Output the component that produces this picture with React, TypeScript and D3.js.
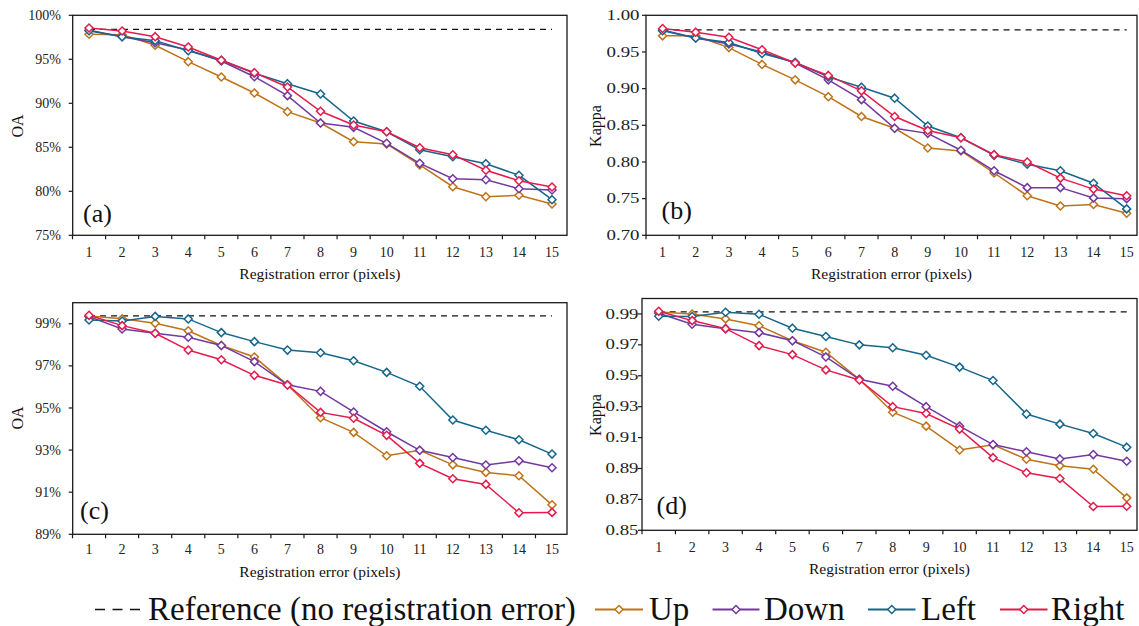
import React from 'react';
import * as d3 from 'd3';

// ---------- data ----------
const errors = [1, 2, 3, 4, 5, 6, 7, 8, 9, 10, 11, 12, 13, 14, 15];
const seriesNames = ['Up', 'Down', 'Left', 'Right'];
const seriesColors = ['#BE7318', '#7238A0', '#16668C', '#E41B4C'];

// (a) OA
const oaA_up = [97.84, 97.8, 96.59, 94.73, 92.99, 91.17, 89.05, 87.76, 85.64, 85.38, 82.99, 80.52, 79.39, 79.55, 78.56];
const oaA_down = [98.3, 97.57, 96.89, 96.06, 94.8, 93.02, 90.87, 87.76, 87.27, 85.45, 83.18, 81.43, 81.32, 80.3, 80.15];
const oaA_left = [98.25, 97.57, 97.12, 95.98, 94.89, 93.41, 92.23, 91.06, 87.99, 86.77, 84.73, 83.93, 83.14, 81.82, 79.05];
const oaA_right = [98.56, 98.22, 97.57, 96.4, 94.89, 93.48, 91.85, 89.09, 87.53, 86.77, 84.95, 84.16, 82.39, 81.2, 80.49];
const oaA_ref = 98.4;

// (b) Kappa
const kaB_up = [0.972, 0.972, 0.956, 0.933, 0.912, 0.889, 0.862, 0.846, 0.819, 0.815, 0.785, 0.754, 0.740, 0.742, 0.730];
const kaB_down = [0.980, 0.969, 0.961, 0.950, 0.935, 0.912, 0.885, 0.846, 0.839, 0.816, 0.788, 0.765, 0.765, 0.751, 0.750];
const kaB_left = [0.979, 0.969, 0.963, 0.948, 0.936, 0.916, 0.902, 0.887, 0.849, 0.833, 0.809, 0.797, 0.788, 0.771, 0.736];
const kaB_right = [0.982, 0.977, 0.970, 0.953, 0.935, 0.918, 0.897, 0.862, 0.843, 0.833, 0.810, 0.800, 0.778, 0.763, 0.754];
const kaB_ref = 0.980;

// (c) OA
const oaC_up = [99.37, 99.24, 99.02, 98.67, 97.97, 97.42, 96.1, 94.54, 93.84, 92.73, 92.99, 92.3, 91.94, 91.78, 90.4];
const oaC_down = [99.34, 98.75, 98.55, 98.36, 97.97, 97.2, 96.1, 95.79, 94.81, 93.87, 92.99, 92.65, 92.29, 92.49, 92.16];
const oaC_left = [99.18, 99.13, 99.35, 99.23, 98.58, 98.15, 97.75, 97.62, 97.24, 96.69, 96.03, 94.43, 93.94, 93.49, 92.81];
const oaC_right = [99.4, 98.91, 98.55, 97.75, 97.29, 96.55, 96.09, 94.79, 94.51, 93.7, 92.37, 91.64, 91.37, 90.02, 90.04];
const oaC_ref = 99.37;

// (d) Kappa
const kaD_up = [0.9913, 0.990, 0.9868, 0.9824, 0.9727, 0.9652, 0.9477, 0.9264, 0.9174, 0.902, 0.9053, 0.896, 0.8917, 0.8895, 0.871];
const kaD_down = [0.9904, 0.9833, 0.9805, 0.9779, 0.9727, 0.9622, 0.9477, 0.9432, 0.930, 0.9174, 0.9055, 0.9008, 0.8962, 0.899, 0.8947];
const kaD_left = [0.9885, 0.9883, 0.9911, 0.9898, 0.9808, 0.9754, 0.970, 0.9681, 0.9633, 0.9556, 0.9469, 0.9252, 0.9187, 0.9126, 0.9038];
const kaD_right = [0.9917, 0.9857, 0.9805, 0.9695, 0.9637, 0.9538, 0.9473, 0.930, 0.9256, 0.9155, 0.897, 0.8872, 0.8835, 0.8654, 0.8656];
const kaD_ref = 0.9913;

// tick labels
const ticksA = [75, 80, 85, 90, 95, 100];
const ticksB = [0.70, 0.75, 0.80, 0.85, 0.90, 0.95, 1.00];
const ticksC = [89, 91, 93, 95, 97, 99];
const ticksD = [0.85, 0.87, 0.89, 0.91, 0.93, 0.95, 0.97, 0.99];

const xTitle = 'Registration error (pixels)';
const legendRefLabel = 'Reference (no registration error)';

const FONT = "'Liberation Serif', 'DejaVu Serif', 'Times New Roman', serif";

type Panel = {
  label: string;
  yTitle: string;
  series: number[][];
  ref: number;
  domain: [number, number];
  ticks: number[];
  fmt: (d: number) => string;
  layout: {
    x0: number; step: number; left: number; right: number; top: number; bottom: number;
    yLabEnd: number; stretch: number | null;
    lab: [number, number]; yT: [number, number]; xTickY: number; xTitleY: number;
  };
};

const pct = (d: number) => `${d}%`;
const fix2 = (d: number) => d.toFixed(2);

const panels: Panel[] = [
  {
    label: '(a)', yTitle: 'OA', series: [oaA_up, oaA_down, oaA_left, oaA_right], ref: oaA_ref,
    domain: [75, 100], ticks: ticksA, fmt: pct,
    layout: { x0: 72.5, step: 33.07, left: 72.7, right: 567, top: 15.3, bottom: 235.3, yLabEnd: 61, stretch: null,
      lab: [83, 222], yT: [17, 126], xTickY: 257, xTitleY: 278.5 },
  },
  {
    label: '(b)', yTitle: 'Kappa', series: [kaB_up, kaB_down, kaB_left, kaB_right], ref: kaB_ref,
    domain: [0.70, 1.00], ticks: ticksB, fmt: fix2,
    layout: { x0: 646, step: 33.15, left: 646, right: 1137, top: 15.3, bottom: 235.3, yLabEnd: 639.5, stretch: 33,
      lab: [661.5, 219], yT: [595, 126], xTickY: 257, xTitleY: 278.5 },
  },
  {
    label: '(c)', yTitle: 'OA', series: [oaC_up, oaC_down, oaC_left, oaC_right], ref: oaC_ref,
    domain: [89, 100], ticks: ticksC, fmt: pct,
    layout: { x0: 72.5, step: 33.07, left: 72.7, right: 567, top: 302.7, bottom: 534.3, yLabEnd: 61, stretch: null,
      lab: [80, 519], yT: [17, 418], xTickY: 554, xTitleY: 576.5 },
  },
  {
    label: '(d)', yTitle: 'Kappa', series: [kaD_up, kaD_down, kaD_left, kaD_right], ref: kaD_ref,
    domain: [0.85, 1.00], ticks: ticksD, fmt: fix2,
    layout: { x0: 642, step: 33.43, left: 642, right: 1137, top: 298.5, bottom: 530.3, yLabEnd: 638.5, stretch: 33,
      lab: [656.5, 514], yT: [595, 415], xTickY: 552, xTitleY: 573.5 },
  },
];

const diamond = (cx: number, cy: number, r: number) =>
  `M${cx},${cy - r}L${cx + r},${cy}L${cx},${cy + r}L${cx - r},${cy}Z`;

const txt = (size: number): React.CSSProperties => ({ fontFamily: FONT, fontSize: size });

function PanelView({ p }: { p: Panel }) {
  const L = p.layout;
  const x = d3.scaleBand<number>().domain(errors).range([L.x0, L.x0 + errors.length * L.step]).padding(0);
  const cx = (d: number) => (x(d) as number) + x.bandwidth() / 2;
  const y = d3.scaleLinear().domain(p.domain).range([L.bottom, L.top]);
  const line = d3.line<number>().x((_, i) => cx(errors[i])).y((v) => y(v));
  const axisColor = '#1a1a1a';
  const boundaries = errors.map((d) => x(d) as number).concat([L.x0 + errors.length * L.step]).filter((b) => b <= L.right + 0.5);
  return (
    <g>
      <rect x={L.left} y={L.top} width={L.right - L.left} height={L.bottom - L.top} fill="none" stroke={axisColor} strokeWidth={1.3} />
      {p.ticks.map((t) => (
        <g key={t}>
          <line x1={L.left - 4} x2={L.left} y1={y(t)} y2={y(t)} stroke={axisColor} strokeWidth={1.2} />
          <text x={L.yLabEnd} y={y(t)} dy="0.33em" textAnchor="end" style={txt(14)} fill="#222"
            {...(L.stretch ? { textLength: L.stretch, lengthAdjust: 'spacingAndGlyphs' } : {})}>
            {p.fmt(t)}
          </text>
        </g>
      ))}
      {boundaries.map((b, i) => (
        <line key={i} x1={b} x2={b} y1={L.bottom} y2={L.bottom + 4} stroke={axisColor} strokeWidth={1.2} />
      ))}
      {errors.map((d) => (
        <text key={d} x={cx(d)} y={L.xTickY} textAnchor="middle" style={txt(14)} fill="#222">{d}</text>
      ))}
      <text x={(L.left + L.right) / 2} y={L.xTitleY} textAnchor="middle" style={txt(15.5)} fill="#111">{xTitle}</text>
      <text transform={`translate(${L.yT[0]},${L.yT[1]}) rotate(-90)`} textAnchor="middle" dominantBaseline="central"
        style={txt(16)} fill="#111">{p.yTitle}</text>
      <text x={L.lab[0]} y={L.lab[1]} style={txt(26)} fill="#111">{p.label}</text>
      <line x1={cx(errors[0])} x2={cx(errors[errors.length - 1])} y1={y(p.ref)} y2={y(p.ref)} stroke="#111" strokeWidth={1.3} strokeDasharray="6,5" />
      {p.series.map((vals, si) => (
        <g key={si}>
          <path d={line(vals) || ''} fill="none" stroke={seriesColors[si]} strokeWidth={1.5} />
          {vals.map((v, i) => (
            <path key={i} d={diamond(cx(errors[i]), y(v), 4)} fill="#fff" stroke={seriesColors[si]} strokeWidth={1.5} />
          ))}
        </g>
      ))}
    </g>
  );
}

function Legend() {
  const ly = 609.5;
  const by = 620;
  const items = [
    { x1: 595, x2: 643, tx: 649 },
    { x1: 712.5, x2: 759.5, tx: 764 },
    { x1: 868, x2: 915.5, tx: 921 },
    { x1: 1000, x2: 1047.5, tx: 1051 },
  ];
  return (
    <g>
      <line x1={95} x2={140} y1={ly} y2={ly} stroke="#111" strokeWidth={1.6} strokeDasharray="10,7.5" />
      <text x={148} y={by} style={txt(33)} fill="#111">{legendRefLabel}</text>
      {items.map((it, i) => (
        <g key={i}>
          <line x1={it.x1} x2={it.x2} y1={ly} y2={ly} stroke={seriesColors[i]} strokeWidth={1.8} />
          <path d={diamond((it.x1 + it.x2) / 2, ly, 4)} fill="#fff" stroke={seriesColors[i]} strokeWidth={1.5} />
          <text x={it.tx} y={by} style={txt(33)} fill="#111">{seriesNames[i]}</text>
        </g>
      ))}
    </g>
  );
}

export default function App() {
  return (
    <svg width={1139} height={626} style={{ position: 'absolute', left: 0, top: 0, background: '#fff' }}>
      <rect width={1139} height={626} fill="#fff" />
      {panels.map((p) => (
        <PanelView key={p.label} p={p} />
      ))}
      <Legend />
    </svg>
  );
}
